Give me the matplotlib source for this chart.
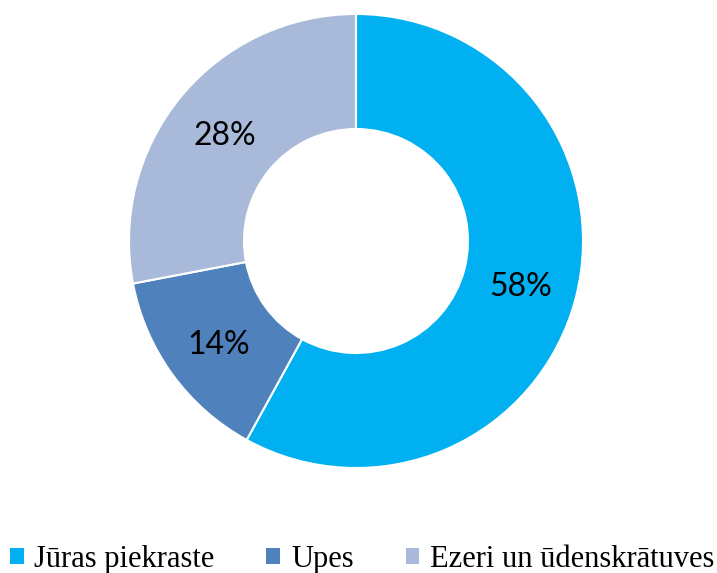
import matplotlib.pyplot as plt
from matplotlib.patches import Patch

# data
labels = ['Jūras piekraste', 'Upes', 'Ezeri un ūdenskrātuves']
values = [58, 14, 28]
colors = ['#00B0F0', '#4F81BD', '#A9B9DA']

fig = plt.figure(figsize=(7.17, 5.73), dpi=100)
ax = fig.add_axes([0, 0, 1, 1])
ax.set_xlim(0, 717)
ax.set_ylim(0, 573)
ax.set_aspect('equal')
ax.axis('off')

wedges, texts, autotexts = ax.pie(
    values, colors=colors, startangle=90, counterclock=False,
    center=(356, 332), radius=227, autopct='%d%%', pctdistance=0.75,
    wedgeprops=dict(width=115, edgecolor='white', linewidth=1.5),
    textprops=dict(fontsize=23, family='Lato', color='black'))
for t in autotexts:
    x, y = t.get_position()
    t.set_position((x, y - 4))
ax.set_xlim(0, 717)
ax.set_ylim(0, 573)

handles = [Patch(facecolor=c, edgecolor='none') for c in colors]
leg = fig.legend(handles, labels, loc='center', bbox_to_anchor=(0.505, 0.024),
                 ncol=3, frameon=False, handlelength=0.45, handleheight=0.45,
                 handletextpad=0.35, columnspacing=1.7,
                 prop=dict(family='Liberation Serif', size=22))

fig.savefig('out.png', dpi=100)
